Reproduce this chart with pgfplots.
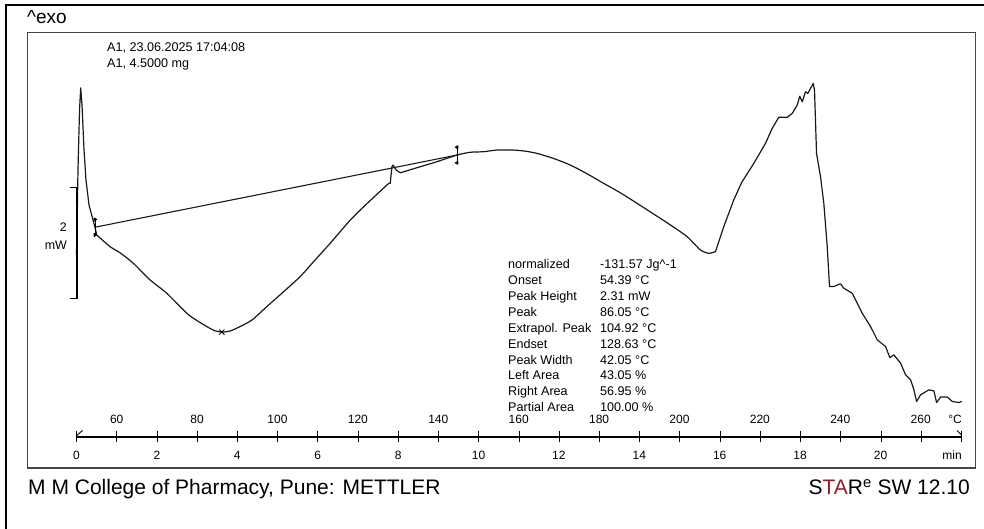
\documentclass[border=0pt]{standalone}
\usepackage{pgfplots}
\pgfplotsset{compat=1.18}
\usepackage{fontspec}
\setmainfont{Liberation Sans}
\definecolor{starred}{RGB}{150,25,35}
\definecolor{framegray}{RGB}{70,70,70}
\definecolor{curve}{RGB}{25,25,25}
\begin{document}
\begin{tikzpicture}
\begin{scope}[x=1bp,y=1bp]
\useasboundingbox (0,0) rectangle (984,529);
% outer frame (top and left only visible)
\draw[line width=2bp,black] (5.5,0) -- (5.5,523.5) -- (984,523.5);
% inner frame
\draw[line width=1.3bp,framegray] (27.7,61) rectangle (975.7,496.5);
% header texts
\node[anchor=base west,inner sep=0pt,font=\fontsize{19bp}{22bp}\selectfont] at (27,505) {\textasciicircum exo};
\node[anchor=base west,inner sep=0pt,font=\fontsize{12.6bp}{14bp}\selectfont] at (107,477) {A1, 23.06.2025 17:04:08};
\node[anchor=base west,inner sep=0pt,font=\fontsize{12.6bp}{14bp}\selectfont] at (107,461) {A1, 4.5000 mg};
% scale labels
\node[anchor=base east,inner sep=0pt,font=\fontsize{12.4bp}{14bp}\selectfont] at (67,297) {2};
\node[anchor=base east,inner sep=0pt,font=\fontsize{12.4bp}{14bp}\selectfont] at (67,279.5) {mW};
% result table
\begin{scope}[every node/.style={anchor=base west,inner sep=0pt,font=\fontsize{12.6bp}{14bp}\selectfont}]
\node at (508,260.0) {normalized};      \node at (600,260.0) {-131.57 Jg\textasciicircum-1};
\node at (508,244.15) {Onset};          \node at (600,244.15) {54.39 °C};
\node at (508,228.3) {Peak Height};     \node at (600,228.3) {2.31 mW};
\node at (508,212.45) {Peak};           \node at (600,212.45) {86.05 °C};
\node at (508,196.6) {Extrapol. Peak};  \node at (600,196.6) {104.92 °C};
\node at (508,180.75) {Endset};         \node at (600,180.75) {128.63 °C};
\node at (508,164.9) {Peak Width};      \node at (600,164.9) {42.05 °C};
\node at (508,149.05) {Left Area};      \node at (600,149.05) {43.05 \%};
\node at (508,133.2) {Right Area};      \node at (600,133.2) {56.95 \%};
\node at (508,117.35) {Partial Area};   \node at (600,117.35) {100.00 \%};
\end{scope}
% axis tick labels
\foreach \T in {60,80,...,260}
  \node[anchor=base,inner sep=0pt,font=\fontsize{12bp}{13bp}\selectfont] at ({76.5+4.02*(\T-50)},105) {\T};
\foreach \m in {0,2,...,20}
  \node[anchor=base,inner sep=0pt,font=\fontsize{12bp}{13bp}\selectfont] at ({76.5+40.2*\m},69.5) {\m};
\node[anchor=base,inner sep=0pt,font=\fontsize{12bp}{13bp}\selectfont] at (955,105) {°C};
\node[anchor=base,inner sep=0pt,font=\fontsize{12bp}{13bp}\selectfont] at (952,69.5) {min};
% axis end marks
\draw[line width=0.9bp] (76.8,93.5) -- (82.5,98.5);
\draw[line width=0.9bp] (957,98.5) -- (961.5,94);
% footer
\node[anchor=base west,inner sep=0pt,font=\fontsize{21bp}{24bp}\selectfont] at (28,34) {M M College of Pharmacy, Pune: METTLER};
\node[anchor=base east,inner sep=0pt,font=\fontsize{21bp}{24bp}\selectfont] at (970,34) {S\textcolor{starred}{TA}R\textsuperscript{e} SW 12.10};
\end{scope}

\begin{axis}[
  at={(76.5bp,92bp)}, anchor=south west,
  scale only axis, width=885bp, height=388.5bp,
  xmin=50, xmax=270, ymin=0, ymax=7,
  axis x line*=bottom, axis y line=none,
  x axis line style={-, line width=1.1bp, black},
  xtick={50,60,...,270}, xticklabel=\empty,
  ytick=\empty,
  tick align=center, major tick length=11bp,
  tick style={black, line width=0.9bp},
  clip=false,
  every axis plot/.append style={line cap=round, line join=round},
]
% DSC curve (temperature in degC, heat flow in mW, relative), in sections
\addplot[curve, line width=1.2bp] coordinates {
(50.00,3.28) (50.37,4.81) (50.75,5.89) (51.04,6.29) (51.37,5.98) (51.87,5.17)
(52.36,4.63) (53.11,4.18) (54.10,3.91) (54.60,3.78) (55.02,3.64)
};
\addplot[curve, line width=1.2bp, smooth, tension=0.4] coordinates {
(55.02,3.64) (58.33,3.43)
(60.82,3.32) (64.13,3.13) (68.28,2.83) (72.44,2.59) (77.41,2.23) (79.90,2.10)
(82.39,1.99) (84.20,1.92) (86.12,1.89) (88.18,1.91) (90.67,1.99) (93.66,2.11)
(97.31,2.35) (101.37,2.61) (105.60,2.89) (109.33,3.19) (113.06,3.49) (118.86,3.97)
(127.16,4.54) (127.99,4.57)
};
\addplot[curve, line width=1.2bp] coordinates {
(127.99,4.57) (128.41,4.87) (128.66,4.90) (129.48,4.81) (130.47,4.76) (135.45,4.87)
};
\addplot[curve, line width=1.2bp, smooth, tension=0.4] coordinates {
(135.45,4.87) (139.60,4.96) (144.58,5.08) (147.89,5.13) (151.12,5.14) (154.53,5.17)
(158.66,5.17) (161.57,5.15) (164.48,5.11) (168.53,5.02) (172.76,4.90) (176.99,4.74)
(181.04,4.57) (185.20,4.40) (189.35,4.21) (193.41,4.02) (197.64,3.82) (201.79,3.61)
(205.10,3.37) (207.16,3.31) (208.83,3.34)
};
\addplot[curve, line width=1.2bp] coordinates {
(208.83,3.34) (210.90,3.79) (213.38,4.27) (215.05,4.54)
(215.47,4.60) (218.36,4.93) (221.27,5.29) (222.93,5.56) (224.58,5.76) (226.67,5.76)
(227.91,5.83) (229.15,5.98) (229.80,6.14) (230.40,6.04) (231.22,6.22) (231.79,6.19)
(232.46,6.28) (233.13,6.37) (233.46,6.25) (233.96,5.11) (234.95,4.69) (235.77,4.21)
(236.62,3.43) (237.19,2.71) (238.26,2.71) (239.18,2.74) (239.93,2.76) (240.75,2.68)
(242.84,2.59) (245.32,2.23) (247.39,1.99) (249.05,1.75) (251.12,1.63) (252.19,1.43)
(253.18,1.48) (254.85,1.33) (256.09,1.12) (257.34,1.03) (258.16,0.85) (258.83,0.64)
(259.83,0.76) (261.89,0.85) (263.13,0.83) (263.81,0.62) (264.80,0.72) (266.47,0.72)
(267.71,0.64) (269.35,0.62) (270.00,0.64)
};
% integration baseline
\addplot[curve, line width=1.1bp] coordinates {(54.60,3.78) (144.58,5.08)};
% integration limits
\addplot[black, line width=0.8bp, mark=triangle*, mark size=1.8bp, mark options={rotate=-90}] coordinates {(54.60,3.64) (54.60,3.92)};
\addplot[black, line width=0.8bp, mark=triangle*, mark size=1.8bp, mark options={rotate=90}] coordinates {(144.58,4.94) (144.58,5.22)};
% peak marker
\addplot[only marks, black, mark=x, mark size=3.5bp, mark options={line width=0.8bp}] coordinates {(86.12,1.89)};
% 2 mW scale bar
\addplot[black, line width=1.1bp, line cap=butt, line join=miter] coordinates {(48.38,4.49) (50.12,4.49) (50.12,2.49) (48.38,2.49)};
\end{axis}
\end{tikzpicture}
\end{document}
